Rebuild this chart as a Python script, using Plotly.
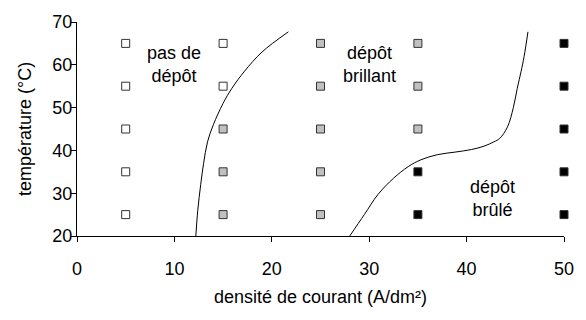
import plotly.graph_objects as go

# Test grid: current density (A/dm²) vs temperature (°C)
no_dep_x = [5, 5, 5, 5, 5, 15, 15]
no_dep_y = [25, 35, 45, 55, 65, 55, 65]

bright_x = [15, 15, 15, 25, 25, 25, 25, 25, 35, 35, 35]
bright_y = [25, 35, 45, 25, 35, 45, 55, 65, 45, 55, 65]

burnt_x = [35, 35, 50, 50, 50, 50, 50]
burnt_y = [25, 35, 25, 35, 45, 55, 65]

# Boundary curves between regions
lower_x = [12.2, 12.4, 12.7, 13.0, 13.4, 14.0, 15.0, 15.9, 17.2, 19.0, 21.7]
lower_y = [20, 26, 32, 37, 42, 46, 51, 54.5, 58.5, 63, 67.7]

upper_x = [28.0, 29.5, 30.9, 32.5, 34.0, 35.3, 37.0, 38.8, 40.5, 41.8, 42.8, 43.4, 44.2, 44.8, 45.2, 45.6, 45.9, 46.3]
upper_y = [20, 25.0, 29.7, 33.5, 36.2, 37.8, 39.0, 39.6, 40.2, 41.0, 42.0, 42.8, 45.5, 50.0, 54.5, 58.5, 61.9, 67.7]

labels = ["pas de<br>dépôt", "dépôt<br>brillant", "dépôt<br>brûlé"]
label_x = [10, 30, 42.7]
label_y = [60, 60, 28.8]

FONT = "Liberation Sans, Arial, sans-serif"
FS = 18

fig = go.Figure()

def squares(x, y, fill):
    return go.Scatter(
        x=x, y=y, mode="markers", cliponaxis=False, showlegend=False,
        marker=dict(symbol="square", size=8, color=fill,
                    line=dict(color="#333333", width=1)),
    )

fig.add_trace(squares(no_dep_x, no_dep_y, "#ffffff"))
fig.add_trace(squares(bright_x, bright_y, "#c0c0c0"))
fig.add_trace(squares(burnt_x, burnt_y, "#000000"))

for cx, cy in [(lower_x, lower_y), (upper_x, upper_y)]:
    fig.add_trace(go.Scatter(
        x=cx, y=cy, mode="lines", showlegend=False, cliponaxis=False,
        line=dict(color="#000000", width=1, shape="spline", smoothing=1.0),
    ))

for t, lx, ly in zip(labels, label_x, label_y):
    fig.add_annotation(x=lx, y=ly, text=t, showarrow=False,
                       font=dict(family=FONT, size=FS, color="#000000"))

fig.update_layout(
    width=586, height=320,
    margin=dict(l=77, r=19, t=14, b=84),
    paper_bgcolor="#ffffff", plot_bgcolor="#ffffff",
    font=dict(family=FONT, size=FS, color="#000000"),
)
fig.update_xaxes(
    range=[0, 50], tickvals=[0, 10, 20, 30, 40, 50], showgrid=False, zeroline=False,
    showline=True, linecolor="#000000", linewidth=1,
    ticks="outside", ticklen=5, tickcolor="#000000", ticklabelstandoff=11,
    tickfont=dict(family=FONT, size=FS),
    title=dict(text="densité de courant (A/dm²)", font=dict(family=FONT, size=FS), standoff=12),
)
fig.update_yaxes(
    range=[20, 70], tickvals=[20, 30, 40, 50, 60, 70], showgrid=False, zeroline=False,
    showline=True, linecolor="#000000", linewidth=1,
    ticks="outside", ticklen=5, tickcolor="#000000", ticklabelstandoff=-5,
    tickfont=dict(family=FONT, size=FS),
    title=dict(text="température (°C)", font=dict(family=FONT, size=FS), standoff=16),
)

fig.write_html("out.html")
